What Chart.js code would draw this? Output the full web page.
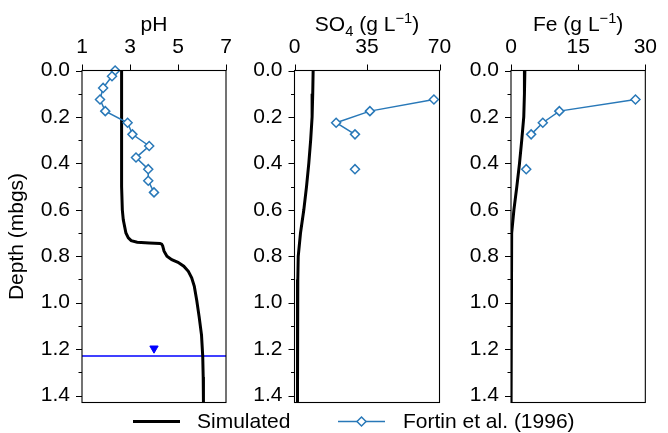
<!DOCTYPE html>
<html>
<head>
<meta charset="utf-8">
<script src="https://cdn.jsdelivr.net/npm/chart.js@4/dist/chart.umd.min.js"></script>
<style>
  html, body { margin: 0; padding: 0; background: #fff; }
  #wrap { position: relative; width: 668px; height: 433px; }
  #wrap canvas { position: absolute; left: 0; top: 0; }
</style>
</head>
<body>
<div id="wrap">
  <canvas id="phPanel" width="668" height="433"></canvas>
  <canvas id="so4Panel" width="668" height="433"></canvas>
  <canvas id="fePanel" width="668" height="433"></canvas>
</div>
<script>
// ---- axis ticks ----
const depthTicks = [0, 0.1, 0.2, 0.3, 0.4, 0.5, 0.6, 0.7, 0.8, 0.9, 1.0, 1.1, 1.2, 1.3, 1.4];
const depthMax = 1.43;
const phTicks = [1, 3, 5, 7];
const so4Ticks = [0, 35, 70];
const feTicks = [0, 15, 30];

// ---- simulated profiles ----
const simPhDepth = [0, 0.5, 0.6, 0.643, 0.7, 0.721, 0.733, 0.74, 0.743, 0.745, 0.748, 0.755, 0.778, 0.8, 0.815, 0.826, 0.843, 0.865, 0.893, 0.93, 0.99, 1.06, 1.14, 1.23, 1.32, 1.43];
const simPh      = [2.65, 2.65, 2.68, 2.72, 2.83, 2.93, 3.05, 3.3, 3.8, 4.25, 4.32, 4.36, 4.42, 4.54, 4.74, 5.0, 5.24, 5.43, 5.57, 5.68, 5.78, 5.88, 5.98, 6.03, 6.05, 6.06];

const simSo4Depth = [0, 0.1, 0.2, 0.3, 0.4, 0.5, 0.6, 0.7, 0.8, 0.9, 1.0, 1.2, 1.43];
const simSo4      = [9.0, 8.8, 8.5, 7.8, 6.9, 5.8, 4.5, 2.9, 1.8, 1.6, 1.5, 1.4, 1.4];

const simFeDepth = [0, 0.1, 0.2, 0.3, 0.4, 0.5, 0.6, 0.7, 0.8, 1.0, 1.43];
const simFe      = [3.1, 3.0, 2.85, 2.4, 1.9, 1.3, 0.65, 0.15, 0.05, 0.02, 0.0];

// ---- Fortin et al. (1996) measurements ----
const obsPhDepth = [0.0, 0.025, 0.075, 0.125, 0.175, 0.225, 0.275, 0.325, 0.375, 0.425, 0.475, 0.525];
const obsPh      = [2.38, 2.25, 1.88, 1.75, 1.97, 2.9, 3.1, 3.8, 3.25, 3.76, 3.76, 4.0];

const obsDepth = [0.125, 0.175, 0.225, 0.275, 0.325, 0.375, 0.425];
const obsSo4   = [67.3, 36.4, 20.1, 29.2, null, null, 29.2];
const obsFe    = [27.8, 10.8, 7.1, 4.5, null, null, 3.4];

// ---- water table ----
const waterTableDepth = 1.23;
const waterTableMarkerDepth = 1.197;
const waterTableMarkerPh = 4.0;

// ---- styling ----
const FONT = "'Liberation Sans', Arial, sans-serif";
const FS = 21;
const OBS_BLUE = '#2878b8';

const pairs = (xs, ys) => ys.map((d, i) => ({ x: xs[i] === null ? null : xs[i], y: d }));

function isMajorDepth(v) {
  return Math.round(v * 10) % 2 === 0;
}

// Frame, tick marks, titles and figure legend
const framePlugin = {
  id: 'frame',
  afterDraw(chart, args, opts) {
    const { ctx, chartArea: a, scales } = chart;
    const xs = scales.x, ys = scales.y;
    ctx.save();
    ctx.strokeStyle = '#000';
    ctx.lineWidth = 1.1;
    ctx.strokeRect(a.left, a.top, a.right - a.left, a.bottom - a.top);

    ctx.lineWidth = 1;
    ctx.beginPath();
    ys.ticks.forEach(t => {
      const py = Math.round(ys.getPixelForValue(t.value)) + 0.5;
      const len = isMajorDepth(t.value) ? 6 : 3.5;
      ctx.moveTo(a.left - len, py);
      ctx.lineTo(a.left, py);
    });
    xs.ticks.forEach(t => {
      const px = Math.round(xs.getPixelForValue(t.value)) + 0.5;
      ctx.moveTo(px, a.top - 6);
      ctx.lineTo(px, a.top);
    });
    ctx.stroke();

    // panel title with sub/superscripts
    if (opts.title) {
      const parts = opts.title.map(p => {
        const size = p.s === 'n' ? FS : FS * 0.7;
        ctx.font = size + 'px ' + FONT;
        return { ...p, size, w: ctx.measureText(p.t).width };
      });
      const total = parts.reduce((s, p) => s + p.w, 0);
      let x = (a.left + a.right) / 2 - total / 2;
      const base = 31;
      ctx.fillStyle = '#000';
      ctx.textBaseline = 'alphabetic';
      ctx.textAlign = 'left';
      parts.forEach(p => {
        ctx.font = p.size + 'px ' + FONT;
        let y = base;
        if (p.s === 'sub') y = base + 5;
        if (p.s === 'sup') y = base - 8;
        ctx.fillText(p.t, x, y);
        x += p.w;
      });
    }

    // figure legend
    if (opts.legend) {
      const ly = 421.5;
      ctx.font = FS + 'px ' + FONT;
      ctx.fillStyle = '#000';
      ctx.textBaseline = 'middle';
      ctx.textAlign = 'left';
      ctx.strokeStyle = '#000';
      ctx.lineWidth = 3;
      ctx.beginPath(); ctx.moveTo(133, ly); ctx.lineTo(180, ly); ctx.stroke();
      ctx.fillText('Simulated', 197, ly + 1);
      ctx.strokeStyle = OBS_BLUE;
      ctx.lineWidth = 1.5;
      ctx.beginPath(); ctx.moveTo(338, ly); ctx.lineTo(385, ly); ctx.stroke();
      const r = 4.5, cx = 361.5;
      ctx.beginPath();
      ctx.moveTo(cx - r, ly); ctx.lineTo(cx, ly - r); ctx.lineTo(cx + r, ly); ctx.lineTo(cx, ly + r);
      ctx.closePath();
      ctx.fillStyle = '#fff'; ctx.fill(); ctx.stroke();
      ctx.fillStyle = '#000';
      ctx.fillText('Fortin et al. (1996)', 403, ly + 1);
    }
    ctx.restore();
  }
};

function simDataset(values, depths) {
  return {
    data: pairs(values, depths),
    borderColor: '#000', borderWidth: 3, pointRadius: 0, tension: 0, order: 2
  };
}
function obsDataset(values, depths) {
  return {
    data: pairs(values, depths),
    borderColor: OBS_BLUE, borderWidth: 1.5,
    pointStyle: 'rectRot', pointRadius: 4.5, pointBorderWidth: 1.5,
    pointBackgroundColor: '#fff', pointBorderColor: OBS_BLUE,
    spanGaps: false, clip: false, tension: 0, order: 0
  };
}

function makePanel(id, cfg) {
  const yWidth = cfg.yTitle ? cfg.left : 60;
  return new Chart(document.getElementById(id), {
    type: 'line',
    data: { datasets: cfg.datasets },
    options: {
      responsive: false,
      animation: false,
      devicePixelRatio: 1,
      layout: { padding: { left: cfg.left - yWidth, right: 668 - cfg.right, top: 0, bottom: 433 - 402.5 } },
      plugins: {
        legend: { display: false },
        tooltip: { enabled: false },
        frame: { title: cfg.title, legend: !!cfg.legend }
      },
      scales: {
        x: {
          type: 'linear', position: 'top',
          min: cfg.ticks[0], max: cfg.ticks[cfg.ticks.length - 1],
          grid: { display: false, drawTicks: false, tickLength: 0 },
          border: { display: false },
          ticks: { font: { family: FONT, size: FS }, color: '#000', padding: 11, maxRotation: 0, autoSkip: false },
          afterBuildTicks: s => { s.ticks = cfg.ticks.map(v => ({ value: v })); },
          afterFit: s => { s.height = 70.5; }
        },
        y: {
          type: 'linear', position: 'left', reverse: true,
          min: 0, max: depthMax,
          grid: { display: false, drawTicks: false, tickLength: 0 },
          border: { display: false },
          title: {
            display: !!cfg.yTitle, text: 'Depth (mbgs)', color: '#000',
            font: { family: FONT, size: FS }, padding: { top: 5, bottom: 0 }
          },
          ticks: {
            font: { family: FONT, size: FS }, color: '#000', padding: 12, autoSkip: false,
            callback: v => isMajorDepth(v) ? Number(v).toFixed(1) : ''
          },
          afterBuildTicks: s => { s.ticks = depthTicks.map(v => ({ value: v })); },
          afterFit: s => { s.width = yWidth; }
        }
      }
    },
    plugins: [framePlugin]
  });
}

// pH panel
makePanel('phPanel', {
  left: 82, right: 226, yTitle: true, ticks: phTicks, legend: true,
  title: [{ t: 'pH', s: 'n' }],
  datasets: [
    obsDataset(obsPh, obsPhDepth),
    simDataset(simPh, simPhDepth),
    {
      data: [{ x: phTicks[0], y: waterTableDepth }, { x: phTicks[phTicks.length - 1], y: waterTableDepth }],
      borderColor: '#0000ff', borderWidth: 1.5, pointRadius: 0, order: 3
    },
    {
      data: [{ x: waterTableMarkerPh, y: waterTableMarkerDepth }],
      showLine: false, pointStyle: 'triangle', pointRotation: 180, pointRadius: 4.8,
      pointBackgroundColor: '#0000ff', pointBorderColor: '#0000ff', pointBorderWidth: 1, order: 1
    }
  ]
});

// SO4 panel
makePanel('so4Panel', {
  left: 294.5, right: 439.5, ticks: so4Ticks,
  title: [{ t: 'SO', s: 'n' }, { t: '4', s: 'sub' }, { t: ' (g L', s: 'n' }, { t: '\u22121', s: 'sup' }, { t: ')', s: 'n' }],
  datasets: [obsDataset(obsSo4, obsDepth), simDataset(simSo4, simSo4Depth)]
});

// Fe panel
makePanel('fePanel', {
  left: 511, right: 655, ticks: feTicks,
  title: [{ t: 'Fe (g L', s: 'n' }, { t: '\u22121', s: 'sup' }, { t: ')', s: 'n' }],
  datasets: [obsDataset(obsFe, obsDepth), simDataset(simFe, simFeDepth)]
});
</script>
</body>
</html>
